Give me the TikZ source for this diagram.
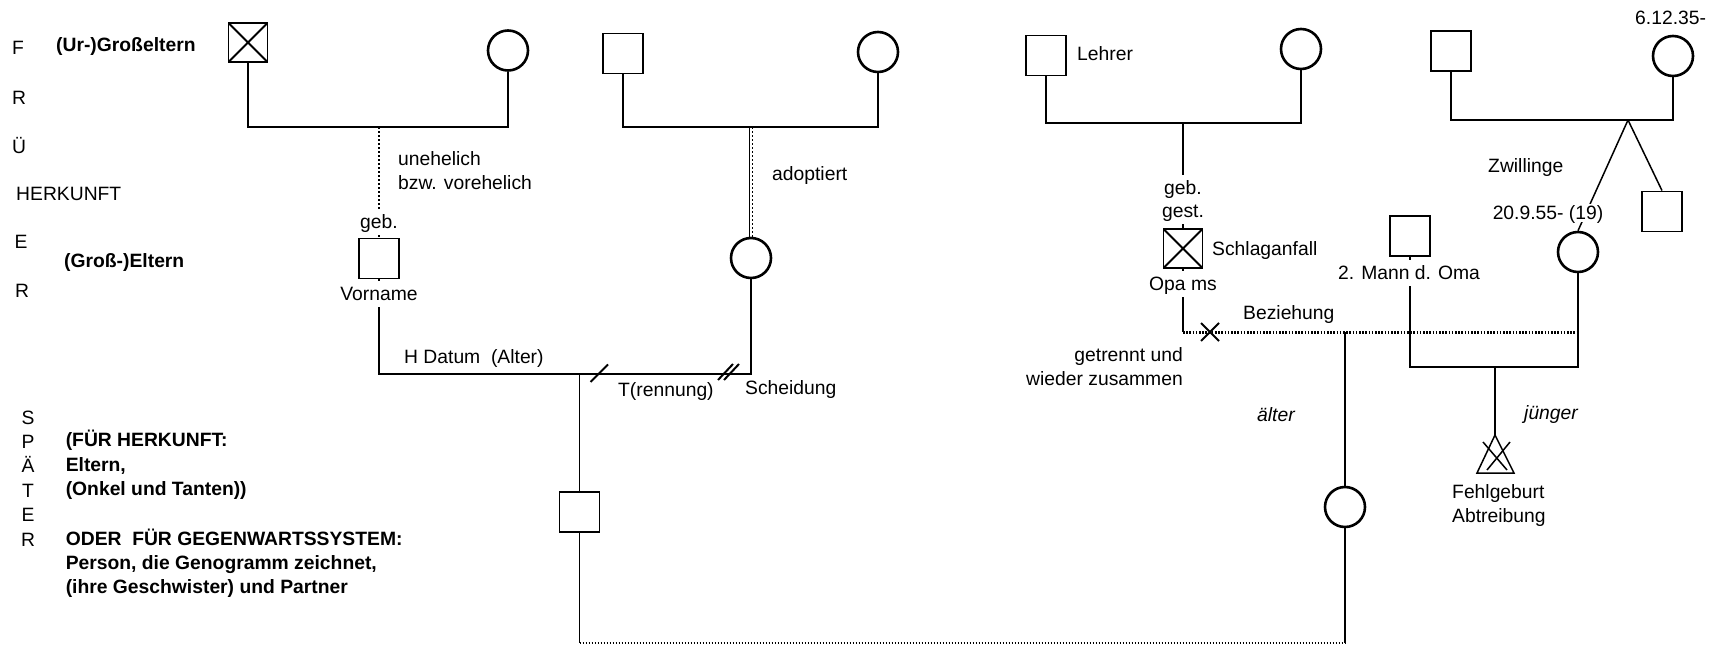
\documentclass[tikz,border=0pt]{standalone}
\usepackage{fontspec}
\setmainfont{Liberation Sans}
\tikzset{
  male/.style={draw, rectangle, line width=1.8pt, minimum size=40pt, inner sep=0pt},
  female/.style={draw, circle, line width=2.6pt, minimum size=40pt, inner sep=0pt},
  dead/.style={male, minimum size=39pt, path picture={\draw[line width=1.8pt] (path picture bounding box.north west) -- (path picture bounding box.south east) (path picture bounding box.north east) -- (path picture bounding box.south west);}},
  conn/.style={line width=1.5pt},
  fdots/.style={line width=1.5pt, dash pattern=on 2pt off 2pt},
  rel/.style={line width=3pt, dash pattern=on 1.6pt off 1.6pt},
  bdots/.style={line width=1.2pt, dash pattern=on 1pt off 2pt},
  txt/.style={font=\fontsize{19.3}{24}\selectfont, inner sep=0pt, text height=13.8pt, text depth=0pt},
  btxt/.style={txt, font=\fontsize{19.3}{24}\selectfont\bfseries},
  itxt/.style={txt, font=\fontsize{19.3}{24}\selectfont\itshape},
  lbl/.style={txt, fill=white, inner xsep=2pt, inner ysep=6pt},
  tickline/.style={line width=2pt},
}
\begin{document}
\begin{tikzpicture}[x=1pt,y=-1pt]
\useasboundingbox (0,0) rectangle (1719,645);

% left margin labels
\node[txt] (lF) at (18,48) {F};
\node[txt] (lR1) at (19,98) {R};
\node[txt] (lU) at (19,147) {Ü};
\node[txt,anchor=west] (lH) at (16,194) {HERKUNFT};
\node[txt] (lE) at (21,242) {E};
\node[txt] (lR2) at (22,291) {R};
\node[btxt,anchor=west] (lUr) at (56,45) {(Ur-)Großeltern};
\node[btxt,anchor=west] (lGr) at (64,261) {(Groß-)Eltern};

\node[txt] (sS) at (28,418) {S};
\node[txt] (sP) at (28,442) {P};
\node[txt] (sA) at (28,466) {Ä};
\node[txt] (sT) at (28,491) {T};
\node[txt] (sE) at (28,515) {E};
\node[txt] (sR) at (28,540) {R};
\node[btxt,anchor=west] (b1) at (65.6,440) {(FÜR HERKUNFT:};
\node[btxt,anchor=west] (b2) at (65.6,465) {Eltern,};
\node[btxt,anchor=west] (b3) at (65.6,489) {(Onkel und Tanten))};
\node[btxt,anchor=west] (b4) at (65.6,539) {ODER\ \ FÜR GEGENWARTSSYSTEM:};
\node[btxt,anchor=west] (b5) at (65.6,563) {Person, die Genogramm zeichnet,};
\node[btxt,anchor=west] (b6) at (65.6,587) {(ihre Geschwister) und Partner};

% family 1
\node[dead] (A) at (248,42.5) {};
\node[female] (B) at (508,50.5) {};
\coordinate (m1) at (379,127);
\draw[conn] (A.south) |- (m1) -| (B.south);
\node[male] (C) at (379,258.5) {};
\draw[fdots] (m1) -- (C.north);
\node[lbl] (geb1) at (379,222) {geb.};
\node[txt,anchor=west] (un1) at (398,159) {unehelich};
\node[txt,anchor=west] (un2) at (398,183) {bzw. vorehelich};

% family 2
\node[male] (D) at (623,53.5) {};
\node[female] (E) at (878,52) {};
\coordinate (m2) at (751,127);
\draw[conn] (D.south) |- (m2) -| (E.south);
\node[female] (F) at (751,258) {};
\draw[conn] ([xshift=-1.4pt]m2) -- ([xshift=-1.4pt]F.north);
\draw[fdots] ([xshift=1.4pt]m2) -- ([xshift=1.4pt]F.north);
\node[txt,anchor=west] (adop) at (772,174) {adoptiert};

% marriage C -- F
\coordinate (h1) at (379,374);
\draw[conn] (C.south) -- (h1) -| (F.south);
\node[lbl] (vn) at (379,294) {Vorname};
\node[txt,anchor=west] (hd) at (404,357) {H Datum\ \ (Alter)};
\node[txt,anchor=west] (tr) at (618,390) {T(rennung)};
\node[txt,anchor=west] (sch) at (745,388) {Scheidung};
\draw[tickline] (590.5,382) -- (608,364.5);
\draw[tickline] (718,380) -- (733,364);
\draw[tickline] (724,380) -- (739,364);

% child G
\coordinate (c1) at (579.5,374);
\node[male] (G) at (579.5,512) {};
\draw[conn] (c1) -- (G.north);

% family 3
\node[male] (H) at (1046,55.5) {};
\node[txt,anchor=west] (leh) at (1077,54) {Lehrer};
\node[female] (I) at (1301,49) {};
\coordinate (m3) at (1183,123);
\draw[conn] (H.south) |- (m3) -| (I.south);
\node[dead] (J) at (1183,248.5) {};
\draw[conn] (m3) -- (J.north);
\node[lbl] (geb2) at (1183,188) {geb.};
\node[lbl] (gest) at (1183,211) {gest.};
\node[txt,anchor=west] (schl) at (1212,249) {Schlaganfall};

% family 4
\node[male] (L) at (1451,51) {};
\node[female] (M) at (1673,56) {};
\coordinate (m4) at (1628,120);
\draw[conn] (L.south) |- (m4) -| (M.south);
\node[txt,anchor=west] (d1) at (1635,18) {6.12.35-};
\node[female] (N) at (1578,252) {};
\node[male] (O) at (1662,211.5) {};
\draw[conn] (m4) -- (N.north);
\draw[conn] (m4) -- (O.north);
\node[txt,anchor=west] (zw) at (1488,166) {Zwillinge};
\node[lbl,inner ysep=2pt] (d2) at (1548,213) {20.9.55- (19)};

% 2. Mann
\node[male] (P) at (1410,236) {};
\coordinate (m5) at (1495,367);
\draw[conn] (P.south) |- (m5) -| (N.south);
\node[lbl] (mann) at (1409,273) {2. Mann d. Oma};

% relationship J -- N
\coordinate (r1) at (1183,332);
\draw[conn] (J.south) -- (r1);
\draw[rel] (r1) -- (r1 -| N.south);
\node[lbl] (opa) at (1183,284) {Opa ms};
\draw[tickline] (1201,323) -- (1219,341) (1219,323) -- (1201,341);
\node[txt,anchor=west] (bez) at (1243,313) {Beziehung};
\node[txt,anchor=east] (get1) at (1183,355) {getrennt und};
\node[txt,anchor=east] (get2) at (1183,379) {wieder zusammen};

% child K
\coordinate (r3) at (1345,332);
\node[female] (K) at (1345,507) {};
\draw[conn] (r3) -- (K.north);
\node[itxt,anchor=west] (alt) at (1257,415) {älter};

% miscarriage
\coordinate (Q) at (1495,435);
\draw[conn] (m5) -- (Q);
\draw[conn] (Q) -- ++(-18,38) -- ++(37,0) -- cycle;
\draw[conn] (1483,442) -- (1507,470) (1510,442) -- (1487,470);
\node[itxt,anchor=west] (jun) at (1524,413) {jünger};
\node[txt,anchor=west] (fg1) at (1452,492) {Fehlgeburt};
\node[txt,anchor=west] (fg2) at (1452,516) {Abtreibung};

% bottom line
\coordinate (bl) at (579.5,643);
\coordinate (br) at (1345,643);
\draw[conn] (G.south) -- (bl);
\draw[bdots] (bl) -- (br);
\draw[conn] (br) -- (K.south);
\end{tikzpicture}
\end{document}
